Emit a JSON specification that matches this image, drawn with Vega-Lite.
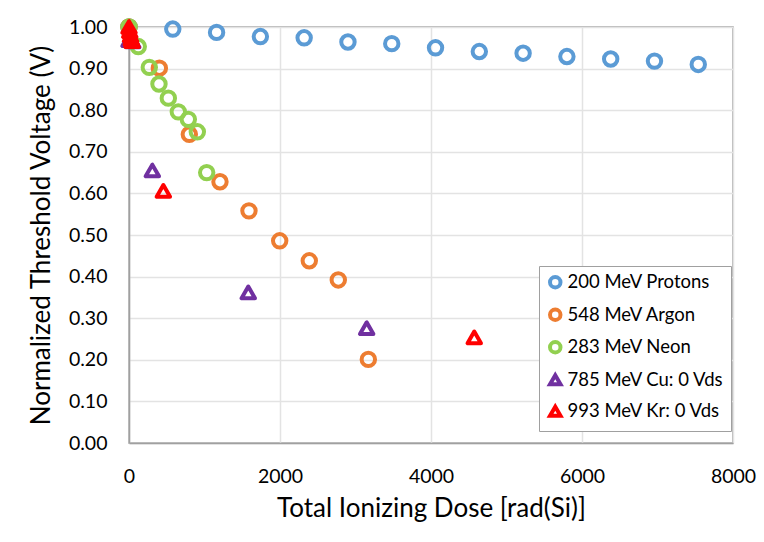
{
  "$schema": "https://vega.github.io/schema/vega-lite/v6.json",
  "autosize": "none",
  "width": 604,
  "height": 416,
  "padding": {"left": 129, "top": 27, "right": 31, "bottom": 99},
  "background": "white",
  "config": {
    "font": "Lato",
    "view": {"stroke": "#A0A0A0", "strokeWidth": 1.5},
    "axis": {
      "gridColor": "#E3E3E3",
      "gridWidth": 1.5,
      "domainColor": "#A0A0A0",
      "domainWidth": 1.5,
      "ticks": false,
      "labelFont": "Lato",
      "labelFontSize": 19.5,
      "labelColor": "#000000",
      "titleFont": "Lato",
      "titleFontSize": 26,
      "titleFontWeight": "normal",
      "titleColor": "#000000"
    }
  },
  "data": {
    "values": [
      {"series": "200 MeV Protons", "dose": 0, "v": 1.0},
      {"series": "200 MeV Protons", "dose": 580, "v": 0.995},
      {"series": "200 MeV Protons", "dose": 1160, "v": 0.987},
      {"series": "200 MeV Protons", "dose": 1740, "v": 0.977},
      {"series": "200 MeV Protons", "dose": 2320, "v": 0.974},
      {"series": "200 MeV Protons", "dose": 2900, "v": 0.964},
      {"series": "200 MeV Protons", "dose": 3480, "v": 0.96},
      {"series": "200 MeV Protons", "dose": 4060, "v": 0.95},
      {"series": "200 MeV Protons", "dose": 4640, "v": 0.941},
      {"series": "200 MeV Protons", "dose": 5220, "v": 0.937},
      {"series": "200 MeV Protons", "dose": 5800, "v": 0.929},
      {"series": "200 MeV Protons", "dose": 6380, "v": 0.923},
      {"series": "200 MeV Protons", "dose": 6960, "v": 0.918},
      {"series": "200 MeV Protons", "dose": 7540, "v": 0.91},
      {"series": "548 MeV Argon", "dose": 0, "v": 1.0},
      {"series": "548 MeV Argon", "dose": 402, "v": 0.901},
      {"series": "548 MeV Argon", "dose": 799, "v": 0.742},
      {"series": "548 MeV Argon", "dose": 1205, "v": 0.628},
      {"series": "548 MeV Argon", "dose": 1589, "v": 0.558},
      {"series": "548 MeV Argon", "dose": 1996, "v": 0.486},
      {"series": "548 MeV Argon", "dose": 2388, "v": 0.438},
      {"series": "548 MeV Argon", "dose": 2772, "v": 0.392},
      {"series": "548 MeV Argon", "dose": 3170, "v": 0.201},
      {"series": "283 MeV Neon", "dose": 0, "v": 1.0},
      {"series": "283 MeV Neon", "dose": 123, "v": 0.953},
      {"series": "283 MeV Neon", "dose": 269, "v": 0.903},
      {"series": "283 MeV Neon", "dose": 397, "v": 0.863},
      {"series": "283 MeV Neon", "dose": 521, "v": 0.829},
      {"series": "283 MeV Neon", "dose": 653, "v": 0.796},
      {"series": "283 MeV Neon", "dose": 786, "v": 0.778},
      {"series": "283 MeV Neon", "dose": 905, "v": 0.748},
      {"series": "283 MeV Neon", "dose": 1029, "v": 0.65},
      {"series": "785 MeV Cu: 0 Vds", "dose": 0, "v": 0.968},
      {"series": "785 MeV Cu: 0 Vds", "dose": 50, "v": 0.965},
      {"series": "785 MeV Cu: 0 Vds", "dose": 309, "v": 0.655},
      {"series": "785 MeV Cu: 0 Vds", "dose": 1580, "v": 0.362},
      {"series": "785 MeV Cu: 0 Vds", "dose": 3148, "v": 0.276},
      {"series": "993 MeV Kr: 0 Vds", "dose": 0, "v": 1.0},
      {"series": "993 MeV Kr: 0 Vds", "dose": 10, "v": 0.99},
      {"series": "993 MeV Kr: 0 Vds", "dose": 20, "v": 0.98},
      {"series": "993 MeV Kr: 0 Vds", "dose": 30, "v": 0.972},
      {"series": "993 MeV Kr: 0 Vds", "dose": 40, "v": 0.966},
      {"series": "993 MeV Kr: 0 Vds", "dose": 455, "v": 0.606},
      {"series": "993 MeV Kr: 0 Vds", "dose": 4573, "v": 0.254}
    ]
  },
  "mark": {"type": "point", "filled": false, "strokeWidth": 4, "size": 180, "opacity": 1, "strokeJoin": "round", "clip": false},
  "encoding": {
    "x": {
      "field": "dose", "type": "quantitative",
      "scale": {"domain": [0, 8000], "nice": false},
      "axis": {"values": [0, 2000, 4000, 6000, 8000], "format": ".0f", "labelPadding": 24, "title": "Total Ionizing Dose [rad(Si)]", "titlePadding": 10, "labelFlush": false}
    },
    "y": {
      "field": "v", "type": "quantitative",
      "scale": {"domain": [0, 1], "nice": false},
      "axis": {"values": [0, 0.1, 0.2, 0.3, 0.4, 0.5, 0.6, 0.7, 0.8, 0.9, 1.0], "format": ".2f", "labelPadding": 22, "title": "Normalized Threshold Voltage (V)", "titlePadding": 14, "labelFlush": false}
    },
    "color": {
      "field": "series", "type": "nominal",
      "scale": {
        "domain": ["200 MeV Protons", "548 MeV Argon", "283 MeV Neon", "785 MeV Cu: 0 Vds", "993 MeV Kr: 0 Vds"],
        "range": ["#5B9BD5", "#ED7D31", "#92D050", "#7030A0", "#FF0000"]
      },
      "legend": {
        "title": null,
        "orient": "none",
        "legendX": 410,
        "legendY": 239,
        "direction": "vertical",
        "strokeColor": "#A0A0A0",
        "fillColor": "white",
        "padding": 7,
        "rowPadding": 5.5,
        "labelFont": "Lato",
        "labelFontSize": 18.5,
        "labelColor": "#000000",
        "symbolSize": 110,
        "symbolStrokeWidth": 4,
        "labelOffset": 3
      }
    },
    "shape": {
      "field": "series", "type": "nominal",
      "scale": {
        "domain": ["200 MeV Protons", "548 MeV Argon", "283 MeV Neon", "785 MeV Cu: 0 Vds", "993 MeV Kr: 0 Vds"],
        "range": ["circle", "circle", "circle", "triangle-up", "triangle-up"]
      },
      "legend": null
    }
  }
}
